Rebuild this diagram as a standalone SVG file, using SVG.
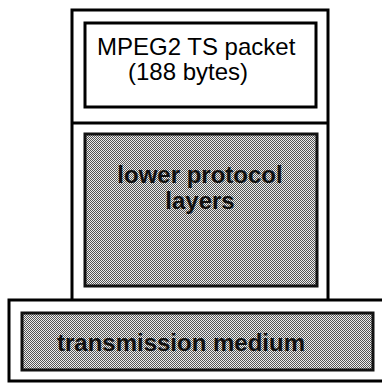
<svg xmlns="http://www.w3.org/2000/svg" width="382" height="384" viewBox="0 0 382 384">
<defs>
<pattern id="dither" patternUnits="userSpaceOnUse" width="2" height="2">
<rect width="2" height="2" fill="#eeeeee"/>
<rect width="1" height="1" fill="#555555"/>
<rect x="1" y="1" width="1" height="1" fill="#555555"/>
</pattern>
</defs>
<style>
.frame{fill:#ffffff;stroke:#000000;stroke-width:3}
.shade{fill:url(#dither);stroke:#111111;stroke-width:3}
.lbl{font-family:"Liberation Sans",Arial,sans-serif;font-size:24px;fill:#000000}
.dark{font-family:"Liberation Sans",Arial,sans-serif;font-size:24px;font-weight:bold;fill:#111111;text-anchor:middle}
</style>
<rect width="382" height="384" fill="#ffffff"/>
<g id="stack">
<rect class="frame" x="72" y="10" width="256" height="292"/>
<line x1="72" y1="123" x2="328" y2="123" stroke="#000000" stroke-width="3"/>
</g>
<g id="ts-packet">
<rect class="frame" x="85" y="23" width="231" height="84"/>
<text class="lbl" x="97" y="55">MPEG2 TS packet</text>
<text class="lbl" x="128" y="80">(188 bytes)</text>
</g>
<g id="lower-layers">
<rect class="shade" x="85" y="134" width="232" height="152"/>
<text class="dark" x="200" y="183">lower protocol</text>
<text class="dark" x="200" y="209">layers</text>
</g>
<g id="medium-frame">
<rect class="frame" x="9" y="300" width="380" height="81"/>
</g>
<g id="transmission-medium">
<rect class="shade" x="22" y="313" width="351" height="57"/>
<text class="dark" x="181" y="351">transmission medium</text>
</g>
<g id="connectors"/>
</svg>
